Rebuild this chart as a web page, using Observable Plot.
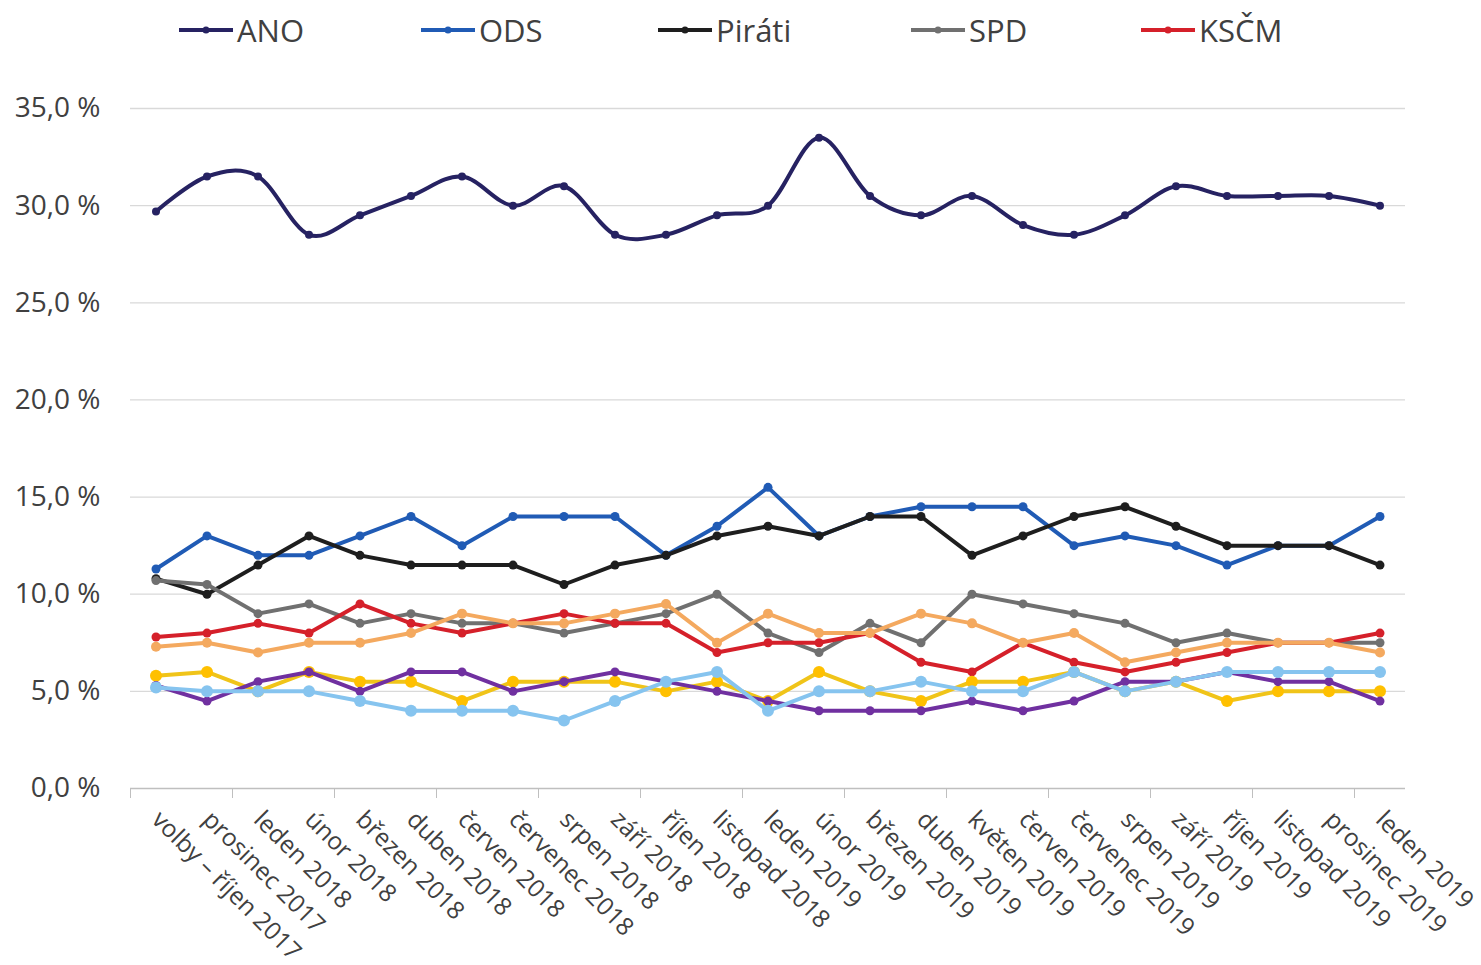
<!DOCTYPE html>
<html>
<head>
<meta charset="utf-8">
<script src="https://cdn.jsdelivr.net/npm/d3@7"></script>
<script src="https://cdn.jsdelivr.net/npm/@observablehq/plot@0.6"></script>
<style>
  body { margin: 0; background: #fff; font-family: "Open Sans", sans-serif; }
  #wrap { width: 1481px; position: relative; }
  #legend { position: relative; height: 60px; width: 1481px; }
  .item { position: absolute; top: 8px; display: flex; align-items: center; font-size: 31px; color: #404040; line-height: 44px; }
  .item svg { margin-right: 3px; }
</style>
</head>
<body>
<div id="wrap">
  <div id="legend"></div>
  <div id="chart"></div>
</div>
<script>
const categories = ["volby – říjen 2017","prosinec 2017","leden 2018","únor 2018","březen 2018","duben 2018","červen 2018","červenec 2018","srpen 2018","září 2018","říjen 2018","listopad 2018","leden 2019","únor 2019","březen 2019","duben 2019","květen 2019","červen 2019","červenec 2019","srpen 2019","září 2019","říjen 2019","listopad 2019","prosinec 2019","leden 2019"];

const seriesNames = ["ANO","ODS","Piráti","SPD","KSČM","ČSSD","KDU-ČSL","TOP 09","STAN"];
const legendNames = ["ANO","ODS","Piráti","SPD","KSČM"];

const ANO    = [29.7,31.5,31.5,28.5,29.5,30.5,31.5,30.0,31.0,28.5,28.5,29.5,30.0,33.5,30.5,29.5,30.5,29.0,28.5,29.5,31.0,30.5,30.5,30.5,30.0];
const ODS    = [11.3,13.0,12.0,12.0,13.0,14.0,12.5,14.0,14.0,14.0,12.0,13.5,15.5,13.0,14.0,14.5,14.5,14.5,12.5,13.0,12.5,11.5,12.5,12.5,14.0];
const PIRATI = [10.8,10.0,11.5,13.0,12.0,11.5,11.5,11.5,10.5,11.5,12.0,13.0,13.5,13.0,14.0,14.0,12.0,13.0,14.0,14.5,13.5,12.5,12.5,12.5,11.5];
const SPD    = [10.7,10.5,9.0,9.5,8.5,9.0,8.5,8.5,8.0,8.5,9.0,10.0,8.0,7.0,8.5,7.5,10.0,9.5,9.0,8.5,7.5,8.0,7.5,7.5,7.5];
const KSCM   = [7.8,8.0,8.5,8.0,9.5,8.5,8.0,8.5,9.0,8.5,8.5,7.0,7.5,7.5,8.0,6.5,6.0,7.5,6.5,6.0,6.5,7.0,7.5,7.5,8.0];
const CSSD   = [7.3,7.5,7.0,7.5,7.5,8.0,9.0,8.5,8.5,9.0,9.5,7.5,9.0,8.0,8.0,9.0,8.5,7.5,8.0,6.5,7.0,7.5,7.5,7.5,7.0];
const KDU    = [5.8,6.0,5.0,6.0,5.5,5.5,4.5,5.5,5.5,5.5,5.0,5.5,4.5,6.0,5.0,4.5,5.5,5.5,6.0,5.0,5.5,4.5,5.0,5.0,5.0];
const TOP09  = [5.3,4.5,5.5,6.0,5.0,6.0,6.0,5.0,5.5,6.0,5.5,5.0,4.5,4.0,4.0,4.0,4.5,4.0,4.5,5.5,5.5,6.0,5.5,5.5,4.5];
const STAN   = [5.2,5.0,5.0,5.0,4.5,4.0,4.0,4.0,3.5,4.5,5.5,6.0,4.0,5.0,5.0,5.5,5.0,5.0,6.0,5.0,5.5,6.0,6.0,6.0,6.0];

const yTicks = [0,5,10,15,20,25,30,35];

// styles
const lineColors = ["#262262","#205bb5","#1e1e1e","#707070","#d5202a","#f4a95f","#f0c419","#7030a0","#86c4ef"];
const dotColors  = ["#262262","#205bb5","#1e1e1e","#707070","#d5202a","#f4a95f","#ffc000","#7030a0","#86c4ef"];
const dotR       = [4, 4.5, 4.5, 4.5, 4.5, 5, 6, 4.5, 6];

const allValues = [ANO, ODS, PIRATI, SPD, KSCM, CSSD, KDU, TOP09, STAN];
const rows = [];
allValues.forEach((vals, s) => vals.forEach((v, i) => rows.push({series: seriesNames[s], i, v})));

const marks = [
  Plot.gridY(yTicks.filter(d => d > 0), {stroke: "#d9d9d9", strokeOpacity: 1, strokeWidth: 1.3}),
  Plot.ruleY([0], {stroke: "#bfbfbf", strokeWidth: 1.5}),
  Plot.axisY({ticks: yTicks, tickSize: 0, tickPadding: 30, fontSize: 28, fill: "#404040",
    tickFormat: d => d.toFixed(1).replace(".", ",") + " %", label: null}),
  Plot.axisX({ticks: d3.range(-0.5, 24, 2), tickSize: 10, stroke: "#bfbfbf", tickFormat: () => "", label: null}),
  Plot.axisX({ticks: d3.range(categories.length), tickSize: 0, tickPadding: 27, tickRotate: 45, fontSize: 24.5, fill: "#404040",
    tickFormat: i => categories[i], label: null})
];

seriesNames.forEach((name, s) => {
  const d = rows.filter(r => r.series === name);
  marks.push(Plot.line(d, {x: "i", y: "v", stroke: lineColors[s], strokeWidth: 4, curve: s === 0 ? "cardinal" : "linear"}));
  marks.push(Plot.dot(d, {x: "i", y: "v", r: dotR[s], fill: dotColors[s], stroke: "none"}));
});

const chart = Plot.plot({
  width: 1481,
  height: 905,
  marginLeft: 130,
  marginRight: 76,
  marginTop: 48,
  marginBottom: 177,
  x: {type: "linear", domain: [-0.5, categories.length - 0.5], axis: null},
  y: {domain: [0, 35], axis: null},
  style: {fontFamily: "Open Sans, sans-serif", color: "#404040", background: "#fff", overflow: "visible"},
  marks
});
document.getElementById("chart").appendChild(chart);

// legend
const legendX = [178, 420, 657, 910, 1140];
const legend = document.getElementById("legend");
legendNames.forEach((name, k) => {
  const s = seriesNames.indexOf(name);
  const div = document.createElement("div");
  div.className = "item";
  div.style.left = legendX[k] + "px";
  div.innerHTML = `<svg width="56" height="12"><line x1="1" y1="6" x2="55" y2="6" stroke="${lineColors[s]}" stroke-width="4"/><circle cx="28" cy="6" r="3.5" fill="${dotColors[s]}"/></svg><span>${name}</span>`;
  legend.appendChild(div);
});
</script>
</body>
</html>
